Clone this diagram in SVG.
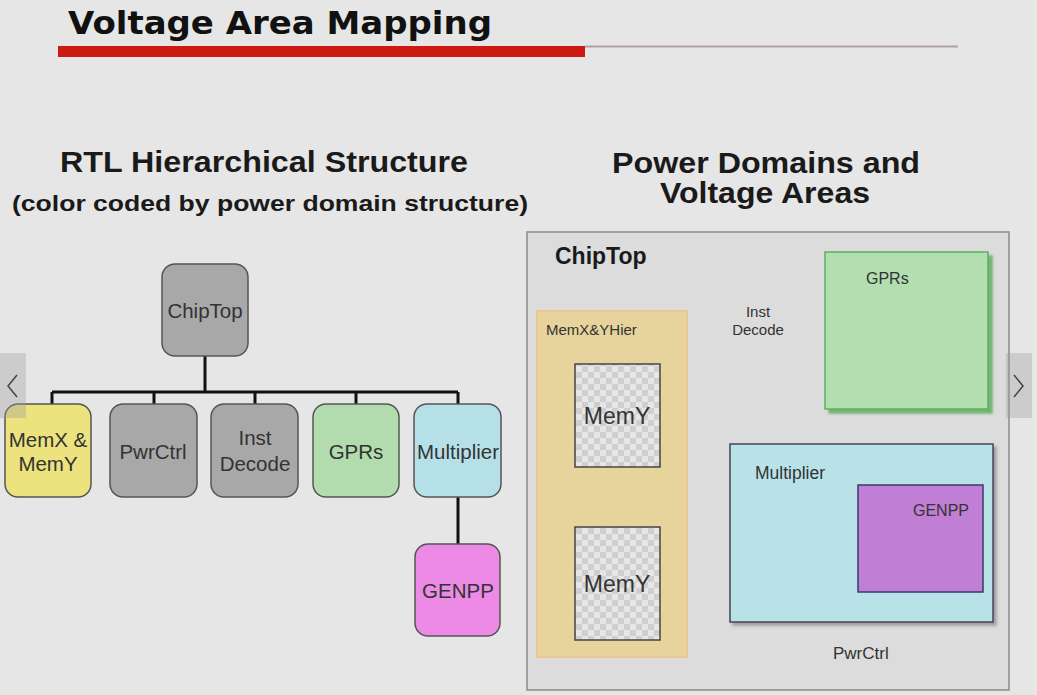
<svg xmlns="http://www.w3.org/2000/svg" width="1037" height="695" viewBox="0 0 1037 695">
<defs>
<pattern id="checker" width="12" height="12" patternUnits="userSpaceOnUse">
<rect width="12" height="12" fill="#e6e6e6"/>
<rect width="6" height="6" fill="#cfcfcf"/>
<rect x="6" y="6" width="6" height="6" fill="#cfcfcf"/>
</pattern>
<filter id="sh" x="-10%" y="-10%" width="130%" height="130%">
<feDropShadow dx="3" dy="3" stdDeviation="1.5" flood-color="#555" flood-opacity="0.45"/>
</filter>
<filter id="shg" x="-10%" y="-10%" width="130%" height="130%">
<feDropShadow dx="4" dy="4" stdDeviation="1" flood-color="#4aa04a" flood-opacity="0.7"/>
</filter>
</defs>
<style>
.t{font-family:"Liberation Sans",Arial,sans-serif;fill:#333}
.h{font-family:"Liberation Sans",Arial,sans-serif;font-weight:bold;fill:#1a1a1a}
.tn{font-size:20.5px;text-anchor:middle}
.node{stroke:#555;stroke-width:1.5}
.conn{stroke:#111;stroke-width:3;fill:none}
</style>
<rect width="1037" height="695" fill="#e6e6e6"/>
<g id="title">
<text x="68" y="34" font-family="DejaVu Sans,Verdana,sans-serif" font-weight="bold" font-size="32" fill="#111" textLength="424" lengthAdjust="spacingAndGlyphs">Voltage Area Mapping</text>
<rect x="58" y="46" width="527" height="11" fill="#cc1a10"/>
<line x1="585" y1="46.5" x2="958" y2="46.5" stroke="#b0a0a8" stroke-width="2"/>
</g>
<g id="headings">
<text class="h" x="264" y="172" font-size="29" text-anchor="middle" textLength="408" lengthAdjust="spacingAndGlyphs">RTL Hierarchical Structure</text>
<text class="h" x="270" y="211" font-size="22" text-anchor="middle" textLength="516" lengthAdjust="spacingAndGlyphs">(color coded by power domain structure)</text>
<text class="h" x="766" y="173" font-size="29" text-anchor="middle" textLength="308" lengthAdjust="spacingAndGlyphs">Power Domains and</text>
<text class="h" x="765" y="203" font-size="29" text-anchor="middle" textLength="210" lengthAdjust="spacingAndGlyphs">Voltage Areas</text>
</g>
<g id="connectors">
<path class="conn" d="M205 356 V392 M52 392 H458 M52 392 V404 M154 392 V404 M255 392 V404 M356 392 V404 M458 392 V404 M458 497 V544"/>
</g>
<g id="tree-chiptop">
<rect class="node" x="162" y="264" width="86" height="92" rx="13" fill="#a8a8a8"/>
<text class="t tn" x="205" y="318">ChipTop</text>
</g>
<g id="tree-memxy">
<rect class="node" x="5" y="404" width="86" height="93" rx="13" fill="#ece27e"/>
<text class="t tn" x="48" y="447">MemX &amp;</text>
<text class="t tn" x="48" y="471">MemY</text>
</g>
<g id="tree-pwrctrl">
<rect class="node" x="110" y="404" width="87" height="93" rx="13" fill="#a8a8a8"/>
<text class="t tn" x="153" y="459">PwrCtrl</text>
</g>
<g id="tree-instdecode">
<rect class="node" x="211" y="404" width="87" height="93" rx="13" fill="#a8a8a8"/>
<text class="t tn" x="255" y="445">Inst</text>
<text class="t tn" x="255" y="471">Decode</text>
</g>
<g id="tree-gprs">
<rect class="node" x="313" y="404" width="86" height="93" rx="13" fill="#b2dcae"/>
<text class="t tn" x="356" y="459">GPRs</text>
</g>
<g id="tree-multiplier">
<rect class="node" x="414" y="404" width="87" height="93" rx="13" fill="#b6e0e8"/>
<text class="t tn" x="458" y="459">Multiplier</text>
</g>
<g id="tree-genpp">
<rect class="node" x="415" y="544" width="85" height="92" rx="13" fill="#ec8ae6"/>
<text class="t tn" x="458" y="598" fill="#3a1a40">GENPP</text>
</g>
<g id="va-chiptop">
<rect x="527" y="232" width="482" height="458" fill="#dcdcdc" stroke="#8a8a8a" stroke-width="1.5"/>
<text class="h" x="555" y="264" font-size="23">ChipTop</text>
</g>
<g id="va-memhier">
<rect x="537" y="311" width="150" height="346" fill="#e6d49c" stroke="#e8c890" stroke-width="2"/>
<text class="t" x="546" y="335" font-size="15">MemX&amp;YHier</text>
</g>
<g id="va-memy1">
<rect x="575" y="364" width="85" height="103" fill="url(#checker)" stroke="#444" stroke-width="1.5"/>
<text class="t" x="617" y="424" font-size="23" text-anchor="middle">MemY</text>
</g>
<g id="va-memy2">
<rect x="575" y="527" width="85" height="113" fill="url(#checker)" stroke="#444" stroke-width="1.5"/>
<text class="t" x="617" y="592" font-size="23" text-anchor="middle">MemY</text>
</g>
<g id="va-instdecode">
<text class="t" x="758" y="317" font-size="15" text-anchor="middle">Inst</text>
<text class="t" x="758" y="335" font-size="15" text-anchor="middle">Decode</text>
</g>
<g id="va-gprs">
<rect x="825" y="252" width="163" height="157" fill="#b2deb0" stroke="#5cb05c" stroke-width="1.5" filter="url(#shg)"/>
<text class="t" x="866" y="284" font-size="16">GPRs</text>
</g>
<g id="va-multiplier">
<rect x="730" y="444" width="263" height="178" fill="#b8e2e8" stroke="#445" stroke-width="1.5" filter="url(#sh)"/>
<text class="t" x="755" y="479" font-size="17.5" fill="#234">Multiplier</text>
</g>
<g id="va-genpp">
<rect x="858" y="485" width="125" height="107" fill="#c07ed4" stroke="#3a3a6a" stroke-width="1.5"/>
<text class="t" x="913" y="516" font-size="16" fill="#3a1a4a">GENPP</text>
</g>
<g id="va-pwrctrl">
<text class="t" x="833" y="659" font-size="17">PwrCtrl</text>
</g>
<g id="nav">
<rect x="0" y="353" width="26" height="65" fill="#9a9a9a" opacity="0.35"/>
<path d="M17 375 L8 386 L17 397" fill="none" stroke="#444" stroke-width="1.5"/>
<rect x="1006" y="353" width="26" height="65" fill="#9a9a9a" opacity="0.35"/>
<path d="M1014 375 L1023 386 L1014 397" fill="none" stroke="#444" stroke-width="1.5"/>
</g>
</svg>
